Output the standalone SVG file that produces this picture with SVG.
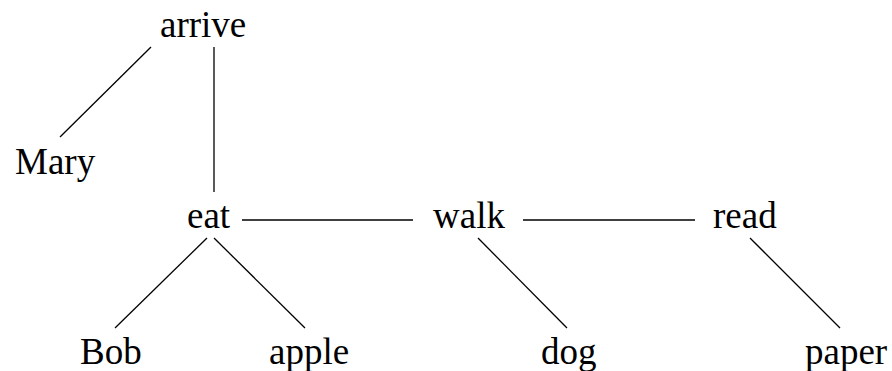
<svg xmlns="http://www.w3.org/2000/svg" width="892" height="371" viewBox="0 0 892 371">
<style>
text{font-family:"Liberation Serif","Times New Roman",serif;font-size:37px;fill:#000}
.e line{stroke:#000;stroke-width:1.3;fill:none}
</style>
<rect width="892" height="371" fill="#fff"/>
<g class="e" id="edges">
<line x1="151" y1="47" x2="60" y2="137"/>
<line x1="214" y1="47" x2="214" y2="192"/>
<line x1="242" y1="220" x2="413" y2="220"/>
<line x1="523" y1="220" x2="695" y2="220"/>
<line x1="207" y1="238" x2="115" y2="328"/>
<line x1="214" y1="238" x2="305" y2="328"/>
<line x1="478" y1="238" x2="567" y2="328"/>
<line x1="750" y1="238" x2="840" y2="328"/>
</g>
<g id="arrive"><text x="160" y="37">arrive</text></g>
<g id="mary"><text x="15" y="174">Mary</text></g>
<g id="eat"><text x="187" y="228">eat</text></g>
<g id="walk"><text x="433" y="228">walk</text></g>
<g id="read"><text x="713" y="228">read</text></g>
<g id="bob"><text x="80" y="364">Bob</text></g>
<g id="apple"><text x="269" y="364">apple</text></g>
<g id="dog"><text x="541" y="364">dog</text></g>
<g id="paper"><text x="805" y="364">paper</text></g>
</svg>
